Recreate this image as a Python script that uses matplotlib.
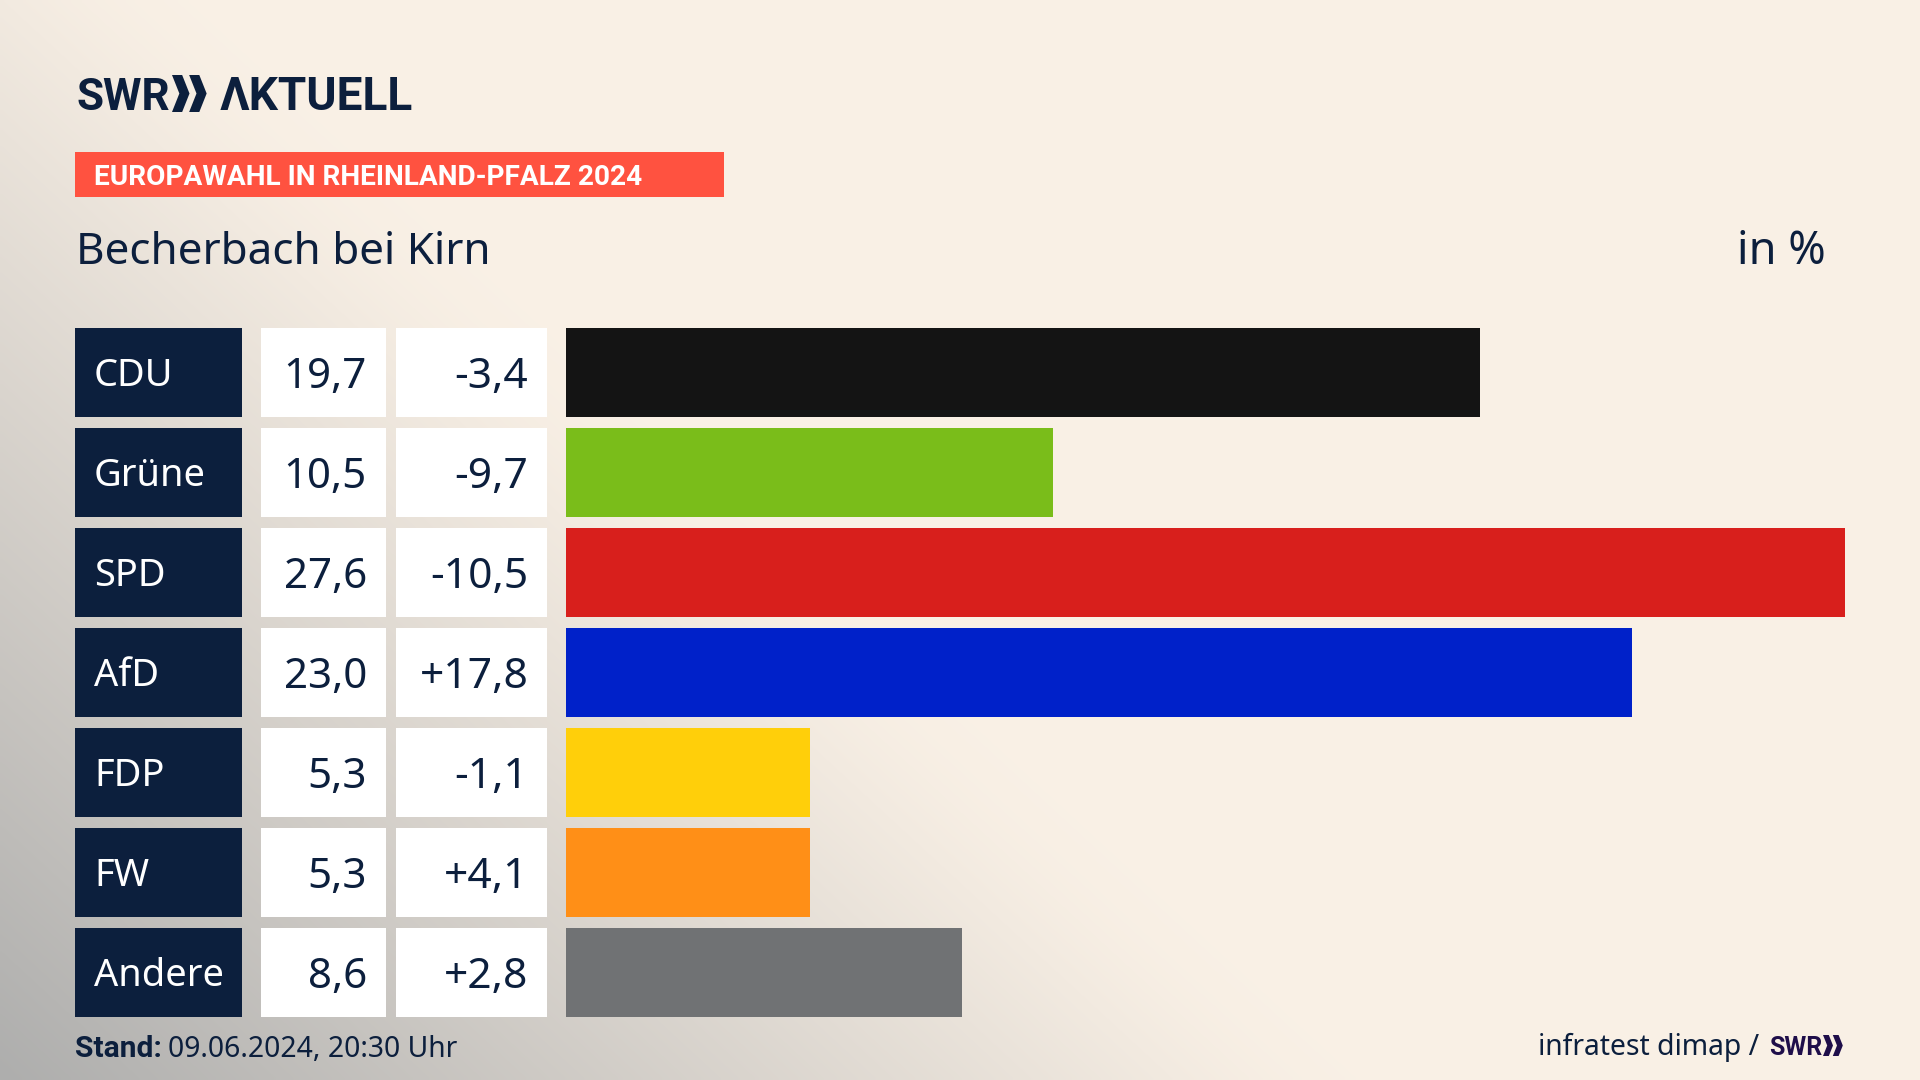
import numpy as np
import matplotlib
matplotlib.use("Agg")
import matplotlib.pyplot as plt
from matplotlib.patches import Polygon, Rectangle
from matplotlib.colors import to_rgb

parties = ["CDU", "Grüne", "SPD", "AfD", "FDP", "FW", "Andere"]
results = [19.72, 10.5, 27.6, 23.0, 5.27, 5.27, 8.55]
result_labels = ["19,7", "10,5", "27,6", "23,0", "5,3", "5,3", "8,6"]
change_labels = ["-3,4", "-9,7", "-10,5", "+17,8", "-1,1", "+4,1", "+2,8"]
colors = ["#141414", "#7ABD1A", "#D81F1C", "#0021C9", "#FFCF0A", "#FF8F17", "#707274"]

NAVY = "#0C1F3D"
FONT = "Noto Sans"
BOLD = "Roboto"
W, H = 1920, 1080
PX = 0.72

fig = plt.figure(figsize=(19.2, 10.8), dpi=100)

# background
bg = fig.add_axes([0, 0, 1, 1])
yy, xx = np.mgrid[0:H:270j, 0:W:480j]
u = 1 - (xx / 1300 + (H - yy) / 1200)
t = np.clip(0.5 * (u + np.sqrt(u ** 2 + 0.003)), 0, 1)
cream = np.array(to_rgb("#FAF1E6"))
grey = np.array(to_rgb("#AEAEAD"))
bg.imshow(cream + (grey - cream) * t[..., None], extent=(0, W, H, 0), aspect="auto", interpolation="bilinear")
bg.set_xlim(0, W)
bg.set_ylim(H, 0)
bg.axis("off")


def txt(x, y, s, size, color=NAVY, weight="normal", ha="left", va="baseline", family=FONT):
    return bg.text(x, y, s, fontsize=size * PX, color=color, fontweight=weight, ha=ha, va=va, family=family)


def chevrons(x0, x1, y0, y1, color):
    w = (x1 - x0) / 2
    n = w * 0.58
    for i in range(2):
        a = x0 + i * w * 0.98
        bg.add_patch(Polygon([(a, y0), (a + n, y0), (a + w, (y0 + y1) / 2), (a + n, y1), (a, y1), (a + w - n, (y0 + y1) / 2)],
                             closed=True, facecolor=color, edgecolor="none"))


# header
txt(76, 110, "SWR", 44, weight="bold", family=BOLD)
chevrons(172, 207, 75, 112, NAVY)
txt(220, 110, "ΛKTUELL", 46, weight="bold", family=BOLD)
bg.add_patch(Rectangle((75, 152), 649, 45, facecolor="#FF5240", edgecolor="none"))
txt(94, 185, "EUROPAWAHL IN RHEINLAND-PFALZ 2024", 28, color="white", weight="bold", family=BOLD)
txt(76, 264, "Becherbach bei Kirn", 44)
txt(1826, 264, "in %", 45, ha="right")

# footer
txt(75, 1057, "Stand:", 30, weight="bold", family=BOLD)
txt(168, 1057, "09.06.2024, 20:30 Uhr", 28.3)
txt(1759, 1055, "infratest dimap /", 28.3, ha="right")
txt(1769, 1055, "SWR", 25, color="#1F0E4A", weight="bold", family=BOLD)
chevrons(1823, 1843, 1035, 1056, "#1F0E4A")


def col_axes(x0, x1):
    a = fig.add_axes([x0 / W, 1 - 1022.25 / H, (x1 - x0) / W, 700 / H])
    a.set_ylim(6.5, -0.5)
    a.axis("off")
    a.patch.set_alpha(0)
    return a


rows = np.arange(len(parties))
BAR_H = 0.885

ax_label = col_axes(75, 242)
ax_label.set_xlim(0, 1)
ax_label.barh(rows, 1, height=BAR_H, color=NAVY)
ax_value = col_axes(261, 386)
ax_value.set_xlim(0, 1)
ax_value.barh(rows, 1, height=BAR_H, color="white")
ax_change = col_axes(396, 547)
ax_change.set_xlim(0, 1)
ax_change.barh(rows, 1, height=BAR_H, color="white")
ax_bar = col_axes(566, 1845)
ax_bar.set_xlim(0, 27.6)
ax_bar.barh(rows, results, height=BAR_H, color=colors)

for r, p, v, c in zip(rows, parties, result_labels, change_labels):
    ax_label.text(19 / 167, r - 0.01, p, fontsize=38 * PX, color="white", va="center_baseline", ha="left", family=FONT)
    ax_value.text(106 / 125, r, v, fontsize=42 * PX, color=NAVY, va="center_baseline", ha="right", family=FONT)
    ax_change.text(132.5 / 151, r, c, fontsize=42.5 * PX, color=NAVY, va="center_baseline", ha="right", family=FONT)

fig.savefig("out.png", dpi=100)
